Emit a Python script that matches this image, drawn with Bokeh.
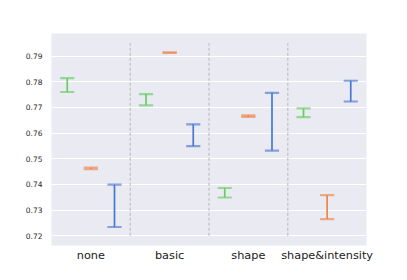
from bokeh.plotting import figure
from bokeh.models import FixedTicker, Range1d, ColumnDataSource
from bokeh.embed import file_html
from bokeh.resources import INLINE

categories = ["none", "basic", "shape", "shape&intensity"]
y_ticks = [0.72, 0.73, 0.74, 0.75, 0.76, 0.77, 0.78, 0.79]

green_low = [0.7760, 0.7708, 0.7349, 0.7662]
green_high = [0.7814, 0.7752, 0.7386, 0.7696]
orange_low = [0.7459, 0.7912, 0.7663, 0.7265]
orange_high = [0.7466, 0.7915, 0.7669, 0.7358]
blue_low = [0.7234, 0.7549, 0.7532, 0.7723]
blue_high = [0.7399, 0.7634, 0.7757, 0.7804]

series = [
    (green_low, green_high, "#6acc64", -0.3),
    (orange_low, orange_high, "#ee854a", 0.0),
    (blue_low, blue_high, "#4878d0", 0.3),
]

p = figure(width=391, height=264, output_backend="svg", toolbar_location=None,
           x_range=Range1d(-0.5, 3.5), y_range=Range1d(0.7162, 0.7988),
           min_border_left=51, min_border_right=25, min_border_top=33, min_border_bottom=19)
p.background_fill_color = "#eaeaf2"
p.border_fill_color = "white"
p.outline_line_color = None
p.xgrid.grid_line_color = None
p.ygrid.grid_line_color = "white"
p.ygrid.grid_line_width = 1.2

for ax in (p.xaxis, p.yaxis):
    ax.axis_line_color = None
    ax.major_tick_line_color = None
    ax.minor_tick_line_color = None
    ax.major_tick_out = 0
    ax.major_tick_in = 0
    ax.minor_tick_out = 0
    ax.minor_tick_in = 0
    ax.major_label_text_font = "DejaVu Sans"

p.yaxis.ticker = FixedTicker(ticks=y_ticks)
p.yaxis.formatter.use_scientific = False
p.yaxis.major_label_standoff = 9
p.yaxis.major_label_text_font_size = "7.5px"
p.yaxis.major_label_text_color = "#262626"

p.xaxis.ticker = FixedTicker(ticks=list(range(len(categories))))
p.xaxis.major_label_overrides = {i: c for i, c in enumerate(categories)}
p.xaxis.major_label_standoff = 3
p.xaxis.major_label_text_font_size = "11.3px"
p.xaxis.major_label_text_color = "#1a1a1a"

# separators
sep_x = [i + 0.5 for i in range(len(categories) - 1)]
p.segment(x0=sep_x, x1=sep_x, y0=[0.72] * len(sep_x), y1=[0.795] * len(sep_x),
          line_color="#c8c8c8", line_width=1.5, line_dash="3 2")

cap = 0.09
for low, high, color, off in series:
    xs = [i + off for i in range(len(categories))]
    src = ColumnDataSource(dict(x=xs, x0=[x - cap for x in xs], x1=[x + cap for x in xs],
                                lo=low, hi=high))
    p.segment(x0="x", x1="x", y0="lo", y1="hi", source=src, line_color=color, line_width=1.7)
    p.segment(x0="x0", x1="x1", y0="lo", y1="lo", source=src, line_color=color, line_width=2.2, line_alpha=0.65)
    p.segment(x0="x0", x1="x1", y0="hi", y1="hi", source=src, line_color=color, line_width=2.2, line_alpha=0.65)

open("out.html", "w").write(file_html(p, INLINE))
